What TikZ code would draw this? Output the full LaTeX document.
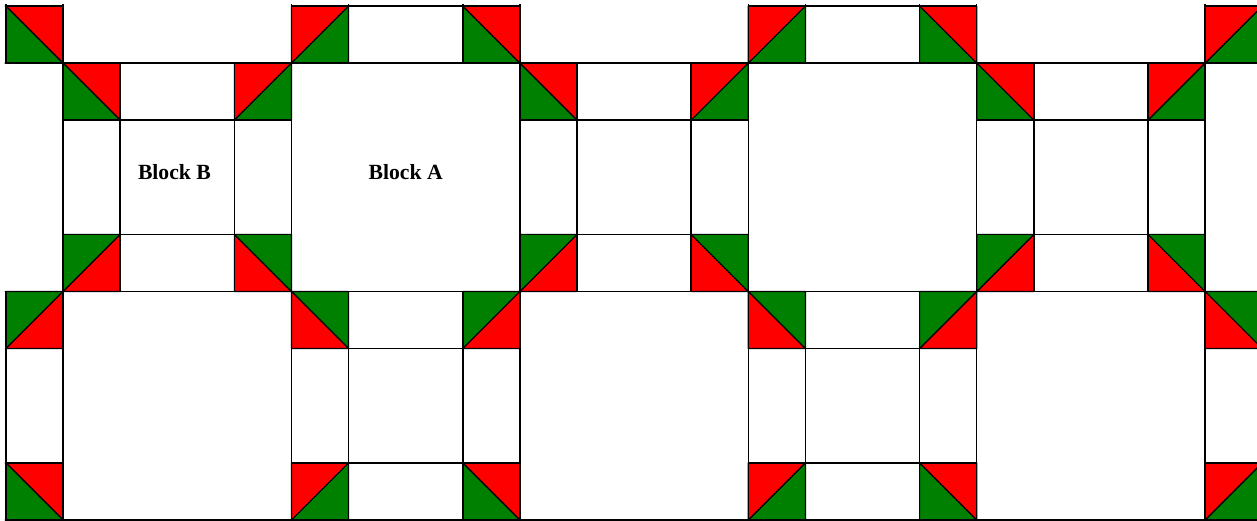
\documentclass[tikz,border=0pt]{standalone}
\usepackage{fontspec}
\setmainfont{Liberation Serif}
\usepackage{tikz}
\usetikzlibrary{positioning}
\definecolor{quiltred}{RGB}{255,0,0}
\definecolor{quiltgreen}{RGB}{0,128,0}
\tikzset{
  patch/.style = {draw=black, line width=0.6pt, line join=round},
  seam/.style = {draw=black, line width=0.7pt},
  tag/.style = {inner sep=0pt, anchor=base,
   font=\fontsize{10.8}{13}\selectfont\bfseries},
}
% block with corner triangles: #1,#2 top left corner, #3 top/bottom colour, #4 side colour
\newcommand{\quiltblock}[4]{
  \filldraw[patch, fill=#3] (#1,#2) -- ++(1,0) -- ++(0,-1) -- cycle;
  \filldraw[patch, fill=#4] (#1,#2) -- ++(0,-1) -- ++(1,0) -- cycle;
  \filldraw[patch, fill=#3] (#1+3,#2) -- ++(1,0) -- ++(-1,-1) -- cycle;
  \filldraw[patch, fill=#4] (#1+4,#2) -- ++(0,-1) -- ++(-1,0) -- cycle;
  \filldraw[patch, fill=#3] (#1,#2-4) -- ++(1,0) -- ++(0,1) -- cycle;
  \filldraw[patch, fill=#4] (#1,#2-4) -- ++(0,1) -- ++(1,0) -- cycle;
  \filldraw[patch, fill=#3] (#1+3,#2-4) -- ++(1,0) -- ++(-1,1) -- cycle;
  \filldraw[patch, fill=#4] (#1+4,#2-4) -- ++(0,1) -- ++(-1,0) -- cycle;
  \draw[seam] (#1,#2) rectangle ++(4,-4);
  \draw[seam] (#1+1,#2) -- ++(0,-4) (#1+3,#2) -- ++(0,-4)
    (#1,#2-1) -- ++(4,0) (#1,#2-3) -- ++(4,0);
}

\begin{document}
\begin{tikzpicture}
  \useasboundingbox (-0.105,-9.002) rectangle (21.909,0.105);
  \clip (-0.02,-9.002) rectangle (21.909,0.02);
  % blocks with triangles
  \foreach \x/\y/\t/\s in {-3/3/quiltgreen/quiltred, 5/3/quiltgreen/quiltred,
      13/3/quiltgreen/quiltred, 21/3/quiltgreen/quiltred,
      1/-1/quiltred/quiltgreen, 9/-1/quiltred/quiltgreen, 17/-1/quiltred/quiltgreen,
      -3/-5/quiltgreen/quiltred, 5/-5/quiltgreen/quiltred,
      13/-5/quiltgreen/quiltred, 21/-5/quiltgreen/quiltred}
    {\quiltblock{\x}{\y}{\t}{\s}}
  % plain blocks
  \foreach \x/\y in {1/3, 9/3, 17/3, -3/-1, 5/-1, 13/-1, 21/-1, 1/-5, 9/-5, 17/-5}
    \draw[seam] (\x,\y) rectangle ++(4,-4);
  \node (blockB) [tag] at (2.95,-3.03) {Block B};
  \node (blockA) [tag] at (7,-3.03) {Block A};
\end{tikzpicture}
\end{document}
